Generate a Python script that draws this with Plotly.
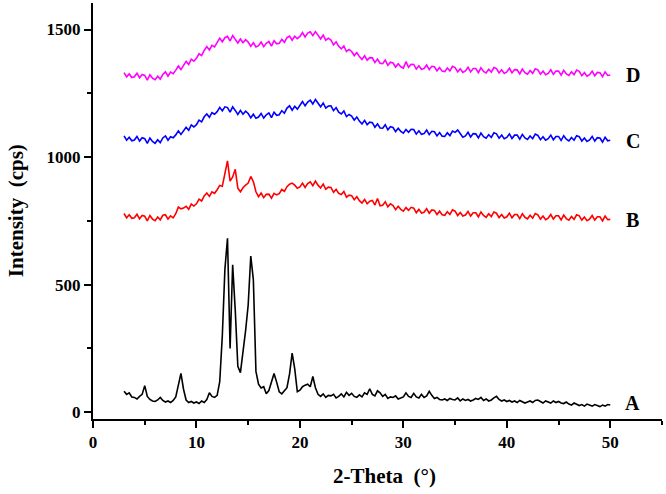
import plotly.graph_objects as go

# 2-theta sampling grid, 3 to 50 deg every 0.25 deg
two_theta = [3 + 0.25 * i for i in range(189)]

# intensities (cps), 4 readings per degree
pattern_a = [
    82, 70, 76, 60,   58, 52, 62, 70,   104, 62, 50, 44,   42, 48, 58, 46,
    40, 44, 38, 46,   60, 110, 152, 90,   48, 38, 42, 36,   40, 34, 44, 38,
    50, 76, 62, 58,   66, 120, 300, 560,   682, 250, 578, 400,   180, 155, 230, 320,
    420, 612, 520, 160,   110, 95, 100, 72,   85, 115, 152, 118,   80, 72, 86, 96,
    150, 232, 170, 80,   86, 100, 106, 110,   100, 140, 96, 70,   62, 72, 58, 66,
    64, 70, 56, 62,   72, 60, 78, 66,   74, 62, 58, 68,   60, 76, 70, 92,
    70, 64, 84, 76,   62, 70, 54, 60,   58, 64, 52, 56,   60, 76, 62, 58,
    74, 60, 56, 70,   58, 64, 82, 66,   54, 58, 50, 48,   52, 46, 54, 50,
    48, 56, 44, 52,   46, 50, 44, 48,   54, 50, 58, 46,   52, 44, 48, 56,
    62, 50, 44, 48,   42, 46, 40, 44,   38, 46, 42, 36,   40, 44, 38, 46,
    48, 42, 36, 44,   40, 36, 44, 38,   42, 36, 34, 40,   32, 28, 36, 30,
    26, 30, 24, 32,   28, 24, 30, 26,   22, 28, 24, 30,   28,
]

pattern_b = [
    779, 762, 774, 760,   762, 776, 758, 771,   768, 750, 771, 757,   751, 765, 754, 772,
    774, 757, 770, 762,   778, 804, 797, 800,   807, 795, 816, 808,   817, 835, 828, 848,
    859, 846, 864, 858,   872, 889, 886, 940,   985, 906, 922, 952,   878, 864, 880, 890,
    898, 924, 904, 864,   845, 859, 841, 854,   855, 839, 858, 852,   857, 873, 866, 884,
    894, 898, 890, 878,   883, 898, 881, 896,   903, 888, 906, 890,   879, 894, 874, 882,
    881, 862, 874, 858,   853, 865, 843, 851,   849, 833, 845, 829,   820, 834, 817, 827,
    830, 812, 838, 809,   811, 825, 805, 817,   810, 794, 807, 795,   788, 802, 791, 803,
    800, 782, 795, 781,   784, 798, 780, 793,   791, 775, 788, 774,   772, 786, 775, 793,
    788, 771, 783, 769,   773, 787, 769, 782,   782, 766, 785, 771,   764, 778, 767, 785,
    780, 763, 775, 761,   766, 780, 762, 775,   775, 759, 778, 764,   758, 772, 761, 779,
    774, 757, 769, 755,   761, 775, 757, 770,   770, 754, 773, 759,   753, 767, 756, 774,
    770, 753, 765, 751,   757, 771, 753, 766,   766, 750, 769, 755,   756,
]

pattern_c = [
    1083, 1066, 1078, 1064,   1067, 1081, 1063, 1076,   1072, 1054, 1075, 1061,   1054, 1068, 1057, 1075,
    1083, 1066, 1080, 1076,   1087, 1103, 1089, 1104,   1117, 1105, 1126, 1118,   1127, 1145, 1138, 1158,
    1169, 1156, 1174, 1168,   1178, 1195, 1181, 1197,   1194, 1176, 1197, 1183,   1167, 1183, 1168, 1180,
    1171, 1154, 1168, 1152,   1157, 1171, 1153, 1166,   1173, 1155, 1176, 1164,   1166, 1182, 1172, 1192,
    1201, 1184, 1199, 1188,   1203, 1218, 1201, 1216,   1223, 1208, 1226, 1210,   1197, 1212, 1192, 1200,
    1201, 1182, 1194, 1176,   1169, 1181, 1159, 1167,   1161, 1145, 1157, 1141,   1130, 1144, 1127, 1137,
    1135, 1117, 1130, 1114,   1113, 1127, 1107, 1119,   1116, 1100, 1113, 1101,   1094, 1108, 1097, 1109,
    1108, 1090, 1103, 1089,   1092, 1106, 1088, 1101,   1099, 1083, 1096, 1082,   1081, 1095, 1084, 1102,
    1097, 1106, 1092, 1078,   1083, 1097, 1079, 1092,   1091, 1075, 1094, 1080,   1074, 1088, 1077, 1095,
    1091, 1074, 1086, 1072,   1077, 1091, 1073, 1086,   1086, 1070, 1089, 1075,   1069, 1083, 1072, 1090,
    1085, 1068, 1080, 1066,   1072, 1086, 1068, 1081,   1081, 1065, 1084, 1070,   1063, 1077, 1066, 1084,
    1080, 1063, 1075, 1061,   1067, 1081, 1063, 1076,   1075, 1059, 1078, 1064,   1066,
]

pattern_d = [
    1331, 1314, 1326, 1312,   1315, 1329, 1311, 1324,   1320, 1302, 1323, 1309,   1303, 1317, 1306, 1324,
    1334, 1317, 1333, 1327,   1341, 1357, 1343, 1358,   1375, 1363, 1384, 1376,   1387, 1405, 1398, 1418,
    1433, 1420, 1438, 1432,   1449, 1466, 1452, 1468,   1473, 1455, 1476, 1462,   1447, 1463, 1448, 1460,
    1451, 1434, 1448, 1432,   1437, 1451, 1433, 1446,   1453, 1435, 1456, 1444,   1446, 1462, 1450, 1468,
    1474, 1458, 1474, 1464,   1473, 1488, 1471, 1486,   1491, 1476, 1492, 1478,   1463, 1478, 1458, 1466,
    1459, 1440, 1452, 1434,   1424, 1436, 1414, 1422,   1414, 1398, 1410, 1394,   1383, 1397, 1380, 1390,
    1389, 1371, 1384, 1368,   1366, 1380, 1360, 1372,   1369, 1353, 1366, 1354,   1349, 1374, 1352, 1364,
    1363, 1345, 1358, 1344,   1347, 1361, 1343, 1356,   1354, 1338, 1351, 1337,   1335, 1349, 1338, 1356,
    1351, 1334, 1346, 1332,   1338, 1352, 1334, 1347,   1347, 1331, 1350, 1336,   1330, 1344, 1333, 1351,
    1347, 1330, 1342, 1328,   1334, 1348, 1330, 1343,   1342, 1326, 1345, 1331,   1325, 1339, 1328, 1346,
    1342, 1325, 1337, 1323,   1328, 1342, 1324, 1337,   1337, 1321, 1340, 1326,   1320, 1334, 1323, 1341,
    1336, 1319, 1331, 1317,   1323, 1337, 1319, 1332,   1331, 1315, 1334, 1320,   1322,
]

labels = ["A", "B", "C", "D"]
label_y = [37, 754, 1064, 1321]
colors = ["black", "#ff0000", "#0000ff", "#ff00ff"]

FONT = "Liberation Serif"

fig = go.Figure()
for ys, col in zip([pattern_a, pattern_b, pattern_c, pattern_d], colors):
    fig.add_trace(go.Scatter(
        x=two_theta, y=ys, mode="lines",
        line=dict(color=col, width=1.6),
        showlegend=False,
    ))

# curve letters at the right end
for lab, ly in zip(labels, label_y):
    fig.add_annotation(
        x=52.15, y=ly, text=f"<b>{lab}</b>", showarrow=False,
        xanchor="center", yanchor="middle",
        font=dict(family=FONT, size=20, color="black"),
    )

# axis titles
fig.add_annotation(
    xref="paper", yref="paper", x=0.513, y=-0.136,
    text="<b>2-Theta  (°)</b>", showarrow=False,
    xanchor="center", yanchor="middle",
    font=dict(family=FONT, size=21, color="black"),
)
fig.add_annotation(
    xref="paper", yref="paper", x=-0.135, y=0.5,
    text="<b>Intensity  (cps)</b>", showarrow=False, textangle=-90,
    xanchor="center", yanchor="middle",
    font=dict(family=FONT, size=21, color="black"),
)

axis_common = dict(
    showline=True, linecolor="black", linewidth=2,
    ticks="outside", ticklen=7, tickwidth=2, tickcolor="black",
    showgrid=False, zeroline=False,
    tickfont=dict(family=FONT, size=17, color="black"),
)

fig.update_xaxes(
    range=[0, 55], tickvals=[0, 10, 20, 30, 40, 50],
    ticktext=["<b>%d</b>" % v for v in [0, 10, 20, 30, 40, 50]],
    minor=dict(tickvals=[5, 15, 25, 35, 45, 55], ticklen=4, tickwidth=2,
               tickcolor="black", ticks="outside"),
    **axis_common,
)
fig.update_yaxes(
    range=[-26.6, 1604], tickvals=[0, 500, 1000, 1500],
    ticktext=["<b>%d</b>" % v for v in [0, 500, 1000, 1500]],
    minor=dict(tickvals=[250, 750, 1250], ticklen=4, tickwidth=2,
               tickcolor="black", ticks="outside"),
    **axis_common,
)

fig.update_layout(
    width=666, height=494,
    margin=dict(l=93, r=4, t=3, b=75),
    plot_bgcolor="white", paper_bgcolor="white",
    showlegend=False,
)

# drop the default page margin so the figure sits at the window's corner
fig.write_html("out.html", config={"displayModeBar": False},
               post_script="document.body.style.margin='0';")
